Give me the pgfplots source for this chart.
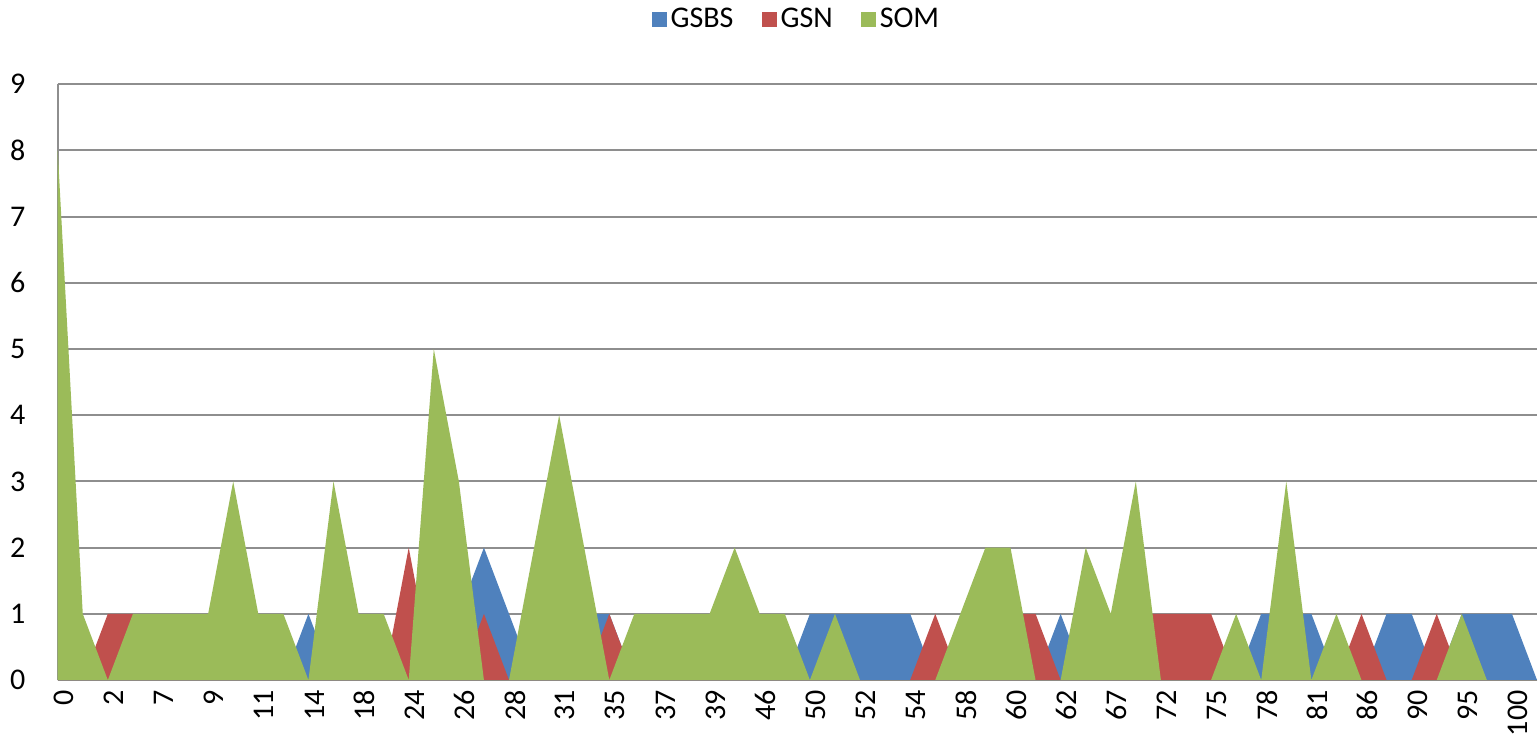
\documentclass[border=0pt]{standalone}
\usepackage{pgfplots}
\pgfplotsset{compat=1.18}
\usepackage{pgfplotstable}
\usepackage{fontspec}
\setmainfont{Carlito}
\definecolor{cb}{HTML}{4F81BD}
\definecolor{cr}{HTML}{C0504D}
\definecolor{cg}{HTML}{9BBB59}
\definecolor{gridc}{HTML}{8E8E8E}
\pgfplotstableread{
i b r g
0 0 0 8
1 0 0 1
2 0 1 0
3 0 1 1
4 0 0 1
5 0 0 1
6 0 0 1
7 0 0 3
8 0 0 1
9 0 0 1
10 1 0 0
11 0 0 3
12 0 0 1
13 0 0 1
14 0 2 0
15 0 0 5
16 1 0 3
17 2 1 0
18 1 0 0
19 0 0 2
20 1 0 4
21 1 0 2
22 1 1 0
23 0 0 1
24 0 0 1
25 0 0 1
26 0 0 1
27 0 0 2
28 0 0 1
29 0 0 1
30 1 0 0
31 1 0 1
32 1 0 0
33 1 0 0
34 1 0 0
35 0 1 0
36 0 0 1
37 0 0 2
38 0 1 2
39 0 1 0
40 1 0 0
41 0 0 2
42 0 1 1
43 0 1 3
44 0 1 0
45 0 1 0
46 0 1 0
47 0 0 1
48 1 0 0
49 1 0 3
50 1 0 0
51 0 0 1
52 0 1 0
53 1 0 0
54 1 0 0
55 0 1 0
56 1 0 1
57 1 0 0
58 1 0 0
59 0 0 0
}\data
\begin{document}
\fontsize{15}{18}\selectfont
\begin{tikzpicture}
\begin{axis}[
  scale only axis, width=738.5pt, height=297.5pt,
  xmin=0, xmax=59, ymin=0, ymax=9,
  xtick={0,2,...,58},
  xticklabels={0,2,7,9,11,14,18,24,26,28,31,35,37,39,46,50,52,54,58,60,62,67,72,75,78,81,86,90,95,100},
  x tick label style={rotate=90, anchor=east, yshift=-3pt, font=\fontsize{15}{18}\selectfont},
  y tick label style={font=\fontsize{15}{18}\selectfont, xshift=-11pt},
  ytick={0,...,9},
  ymajorgrids, major grid style={gridc, line width=1pt},
  axis x line*=bottom, axis y line*=left,
  tick style={draw=none},
  axis line style={gridc, line width=1pt},
  /pgf/number format/assume math mode=true,
  legend columns=3,
  legend style={at={(0.5,1.1076)}, anchor=center, draw=none, font=\fontsize{15}{18}\selectfont,
    /tikz/every even column/.append style={column sep=12pt}},
  legend image code/.code={\fill[#1] (0pt,-3.5pt) rectangle (7.5pt,4pt);},
]
\addplot[fill=cb, draw=none] table[x=i, y=b]{\data} \closedcycle;
\addlegendentry{GSBS}
\addplot[fill=cr, draw=none] table[x=i, y=r]{\data} \closedcycle;
\addlegendentry{GSN}
\addplot[fill=cg, draw=none] table[x=i, y=g]{\data} \closedcycle;
\addlegendentry{SOM}
\end{axis}
\end{tikzpicture}
\end{document}
